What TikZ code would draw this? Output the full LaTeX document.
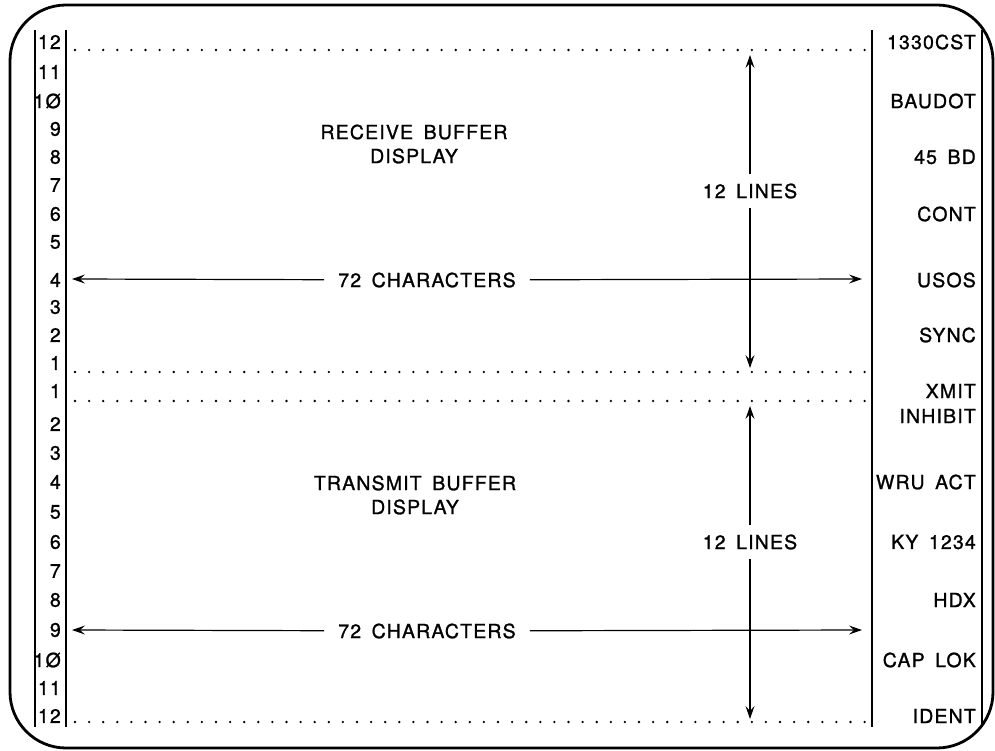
\documentclass[tikz,border=0pt]{standalone}
\usepackage{fontspec}
\setmainfont[LetterSpace=6,FakeBold=1.2,WordSpace=1.6]{TeX Gyre Heros}
\usetikzlibrary{arrows.meta}
\tikzset{
  lbl/.style={font=\fontsize{19.5}{24}\selectfont, inner sep=0pt},
  numlbl/.style={lbl, anchor=east},
  sidelbl/.style={lbl, anchor=east},
  rule/.style={line width=1.4pt},
  dots/.style={line width=2.6pt, line cap=round, dash pattern=on 0pt off 14.1pt},
  arr/.style={line width=1.2pt, -{Stealth[length=13pt,width=9pt,inset=5pt]}},
  gaplbl/.style={lbl, inner xsep=14pt, inner ysep=9pt},
}
\begin{document}
\begin{tikzpicture}[x=1pt,y=-1pt]
\useasboundingbox (0,0) rectangle (995,751);
% outer frame
\draw[line width=2.8pt, rounded corners=56pt] (10,5) rectangle (993,748);
% vertical rules
\draw[rule] (35,30) -- (35,727);
\draw[rule] (66,30) -- (66,727);
\draw[rule] (872,30) -- (872,727);
\draw[rule] (982,30) -- (982,727);
% dotted rows
\draw[dots] (75,50) -- (866,50);
\draw[dots] (75,372) -- (866,372);
\draw[dots] (75,401) -- (866,401);
\draw[dots] (75,722) -- (866,722);
% left numbers
\foreach \n/\y [count=\i] in {12/42,11/72,1Ø/101,9/129,8/157,7/185,6/214,5/242,4/280,3/307,2/335,1/363,1/391,2/424,3/453,4/482,5/512,6/542,7/571,8/600,9/630,1Ø/660,11/688,12/716}
  \node[numlbl] (num\i) at (61,\y) {\n};
% right labels
\node[sidelbl] (r1) at (976,42) {1330CST};
\node[sidelbl] (r2) at (976,101) {BAUDOT};
\node[sidelbl] (r3) at (976,157) {45 BD};
\node[sidelbl] (r4) at (976,214) {CONT};
\node[sidelbl] (r5) at (976,280) {USOS};
\node[sidelbl] (r6) at (976,335) {SYNC};
\node[sidelbl] (r7) at (976,391) {XMIT};
\node[sidelbl] (r8) at (976,416) {INHIBIT};
\node[sidelbl] (r9) at (976,482) {WRU ACT};
\node[sidelbl] (r10) at (976,542) {KY 1234};
\node[sidelbl] (r11) at (976,600) {HDX};
\node[sidelbl] (r12) at (976,660) {CAP LOK};
\node[sidelbl] (r13) at (976,716) {IDENT};
% central titles
\node[lbl, align=center] (rx) at (414,144) {RECEIVE BUFFER\\DISPLAY};
\node[lbl, align=center] (tx) at (415,495) {TRANSMIT BUFFER\\DISPLAY};
% arrows receive
\coordinate (rxL) at (72,279);
\coordinate (rxR) at (862,279);
\node[gaplbl] (rxchar) at (427,280) {72 CHARACTERS};
\draw[arr] (rxchar) -- (rxL);
\draw[arr] (rxchar) -- (rxR);
\coordinate (rxT) at (750,55);
\coordinate (rxB) at (750,368);
\node[gaplbl] (rxlines) at (750,191) {12 LINES};
\draw[arr] (rxlines) -- (rxT);
\draw[arr] (rxlines) -- (rxB);
% arrows transmit
\coordinate (txL) at (72,630);
\coordinate (txR) at (862,630);
\node[gaplbl] (txchar) at (427,631) {72 CHARACTERS};
\draw[arr] (txchar) -- (txL);
\draw[arr] (txchar) -- (txR);
\coordinate (txT) at (750,406);
\coordinate (txB) at (750,719);
\node[gaplbl] (txlines) at (750,542) {12 LINES};
\draw[arr] (txlines) -- (txT);
\draw[arr] (txlines) -- (txB);
\end{tikzpicture}
\end{document}
